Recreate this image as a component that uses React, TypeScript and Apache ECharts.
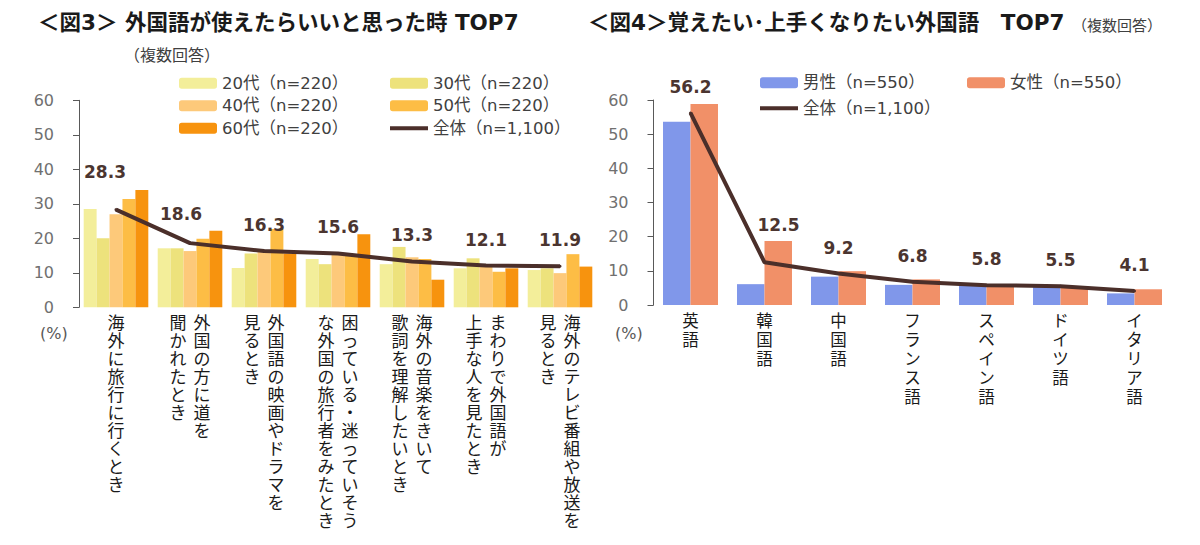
import React, { useEffect, useRef } from "react";
import * as echarts from "echarts";

const FONT = "'DejaVu Sans', 'Noto Sans CJK JP', sans-serif";

// ---- Figure 3 data ----
const fig3Categories: string[][] = [
  ["海外に旅行に行くとき"],
  ["外国の方に道を", "聞かれたとき"],
  ["外国語の映画やドラマを", "見るとき"],
  ["困っている・迷っていそう", "な外国の旅行者をみたとき"],
  ["海外の音楽をきいて", "歌詞を理解したいとき"],
  ["まわりで外国語が", "上手な人を見たとき"],
  ["海外のテレビ番組や放送を", "見るとき"],
];
const fig3Series = ["20代（n=220）", "30代（n=220）", "40代（n=220）", "50代（n=220）", "60代（n=220）"];
const age20 = [28.5, 17.1, 11.4, 14.0, 12.5, 11.3, 10.8];
const age30 = [20.0, 17.1, 15.6, 12.5, 17.5, 14.2, 11.3];
const age40 = [27.0, 16.3, 16.0, 15.2, 14.5, 12.0, 9.9];
const age50 = [31.4, 19.9, 22.7, 15.2, 14.0, 10.3, 15.4];
const age60 = [34.0, 22.2, 15.6, 21.2, 8.0, 11.3, 11.8];
const fig3Total = [28.3, 18.6, 16.3, 15.6, 13.3, 12.1, 11.9];
const fig3Colors = ["#f3ee9a", "#ede27c", "#fdc97a", "#fdbd45", "#f7930e"];
const fig3LabelShift = [[-11, -12], [-9, -3], [0, 0], [0, 0], [0, 0], [0, 0], [0, 0]];

// ---- Figure 4 data ----
const fig4Categories: string[][] = [["英語"], ["韓国語"], ["中国語"], ["フランス語"], ["スペイン語"], ["ドイツ語"], ["イタリア語"]];
const male = [53.6, 6.1, 8.3, 5.9, 5.6, 5.6, 3.4];
const female = [58.8, 18.7, 9.9, 7.5, 6.0, 5.3, 4.6];
const fig4Total = [56.2, 12.5, 9.2, 6.8, 5.8, 5.5, 4.1];
const fig4LabelShift = [[0, 0], [14, -11], [0, 0], [0, 0], [0, 0], [0, 0], [0, 0]];

const yTicks = { min: 0, max: 60, interval: 10 };
const TOTAL = "全体（n=1,100）";
const LINE_COLOR = "#4b2f2a";

function verticalLabel(cols: string[]): string {
  const chars = cols.map((c) => Array.from(c));
  const n = Math.max(...chars.map((c) => c.length));
  const lines: string[] = [];
  for (let i = 0; i < n; i++) {
    lines.push(
      chars
        .slice()
        .reverse()
        .map((cs) => `{v|${cs[i] ?? "　"}}`)
        .join("")
    );
  }
  return lines.join("\n");
}

export default function App() {
  const ref = useRef<HTMLDivElement>(null);

  useEffect(() => {
    document.body.style.margin = "0";
    if (!ref.current) return;
    const chart = echarts.init(ref.current, undefined, { renderer: "svg" });

    const yAxisCommon = (gridIndex: number) => ({
      type: "value",
      gridIndex,
      ...yTicks,
      axisLine: { show: true, lineStyle: { color: "#595959", width: 1 } },
      axisTick: { show: true, length: 6, lineStyle: { color: "#595959" } },
      splitLine: { show: false },
      axisLabel: { margin: 25, color: "#707070", fontSize: 16, fontFamily: FONT },
    });

    const xAxisCommon = (gridIndex: number, cats: string[][], fontSize: number, lineHeight: number) => ({
      type: "category",
      gridIndex,
      data: cats.map((c) => c.join("")),
      axisLine: { show: false },
      axisTick: { show: false },
      axisLabel: {
        interval: 0,
        margin: 7,
        formatter: (_v: string, idx: number) => verticalLabel(cats[idx]),
        rich: {
          v: {
            width: 24,
            align: "center",
            fontSize,
            lineHeight,
            color: "#1a1a1a",
            fontFamily: FONT,
          },
        },
      },
    });

    const lineLabel = {
      show: true,
      position: "top",
      distance: 16,
      fontSize: 17,
      fontWeight: "bold",
      color: "#4b3530",
      fontFamily: FONT,
      formatter: (p: any) => Number(p.value).toFixed(1),
    };

    const legendBase = {
      orient: "vertical",
      itemWidth: 38,
      itemHeight: 11,
      padding: 0,
      textStyle: { fontSize: 16.5, color: "#404040", fontFamily: FONT },
    };
    const lineIcon = "path://M0,0H40V4H0Z";

    const option: any = {
      animation: false,
      textStyle: { fontFamily: FONT },
      title: [
        {
          text: "＜図3＞ 外国語が使えたらいいと思った時 TOP7",
          left: 38,
          top: 12,
          padding: 0,
          textStyle: { fontSize: 21.5, fontWeight: "bold", color: "#1a1a1a", fontFamily: FONT },
        },
        {
          text: "（複数回答）",
          left: 124,
          top: 47,
          padding: 0,
          textStyle: { fontSize: 16, fontWeight: "normal", color: "#404040", fontFamily: FONT },
        },
        {
          text: "＜図4＞覚えたい･上手くなりたい外国語　TOP7",
          left: 588,
          top: 12,
          padding: 0,
          textStyle: { fontSize: 21.5, fontWeight: "bold", color: "#1a1a1a", fontFamily: FONT },
        },
        {
          text: "（複数回答）",
          left: 1072,
          top: 18,
          padding: 0,
          textStyle: { fontSize: 15, fontWeight: "normal", color: "#404040", fontFamily: FONT },
        },
        {
          text: "(%)",
          left: 40,
          top: 325,
          padding: 0,
          textStyle: { fontSize: 16, fontWeight: "normal", color: "#595959", fontFamily: FONT },
        },
        {
          text: "(%)",
          left: 615,
          top: 325,
          padding: 0,
          textStyle: { fontSize: 16, fontWeight: "normal", color: "#595959", fontFamily: FONT },
        },
      ],
      legend: [
        { ...legendBase, left: 179, top: 75, itemGap: 6, data: [fig3Series[0], fig3Series[2], fig3Series[4]] },
        {
          ...legendBase,
          left: 390,
          top: 75,
          itemGap: 6,
          data: [fig3Series[1], fig3Series[3], { name: TOTAL, icon: lineIcon }],
        },
        {
          ...legendBase,
          left: 760,
          top: 74.5,
          itemGap: 9,
          data: ["男性（n=550）", { name: TOTAL, icon: lineIcon }],
        },
        { ...legendBase, left: 967, top: 74.5, itemGap: 9, data: ["女性（n=550）"] },
      ],
      grid: [
        { left: 79, top: 100.3, width: 518, height: 207, containLabel: false },
        { left: 653.5, top: 100, width: 518, height: 205, containLabel: false },
      ],
      xAxis: [xAxisCommon(0, fig3Categories, 17, 18), xAxisCommon(1, fig4Categories, 16.5, 19)],
      yAxis: [yAxisCommon(0), yAxisCommon(1)],
      series: [
        ...[age20, age30, age40, age50, age60].map((vals, i) => ({
          type: "bar",
          name: fig3Series[i],
          xAxisIndex: 0,
          yAxisIndex: 0,
          data: vals,
          barGap: "0%",
          barCategoryGap: "12.7%",
          itemStyle: { color: fig3Colors[i] },
        })),
        {
          type: "line",
          name: TOTAL,
          xAxisIndex: 0,
          yAxisIndex: 0,
          data: fig3Total.map((v, i) => ({
            value: v,
            label: { offset: fig3LabelShift[i] },
          })),
          symbol: "circle",
          symbolSize: 3,
          lineStyle: { color: LINE_COLOR, width: 4 },
          itemStyle: { color: LINE_COLOR },
          label: lineLabel,
          z: 5,
        },
        {
          type: "bar",
          name: "男性（n=550）",
          xAxisIndex: 1,
          yAxisIndex: 1,
          data: male,
          barGap: "0%",
          barCategoryGap: "25.7%",
          itemStyle: { color: "#8097ea" },
        },
        {
          type: "bar",
          name: "女性（n=550）",
          xAxisIndex: 1,
          yAxisIndex: 1,
          data: female,
          barGap: "0%",
          barCategoryGap: "25.7%",
          itemStyle: { color: "#f19068" },
        },
        {
          type: "line",
          name: TOTAL,
          xAxisIndex: 1,
          yAxisIndex: 1,
          data: fig4Total.map((v, i) => ({
            value: v,
            label: { offset: fig4LabelShift[i] },
          })),
          symbol: "circle",
          symbolSize: 3,
          lineStyle: { color: LINE_COLOR, width: 4 },
          itemStyle: { color: LINE_COLOR },
          label: lineLabel,
          z: 5,
        },
      ],
    };

    chart.setOption(option);
    return () => chart.dispose();
  }, []);

  return <div ref={ref} style={{ width: 1200, height: 545 }} />;
}
